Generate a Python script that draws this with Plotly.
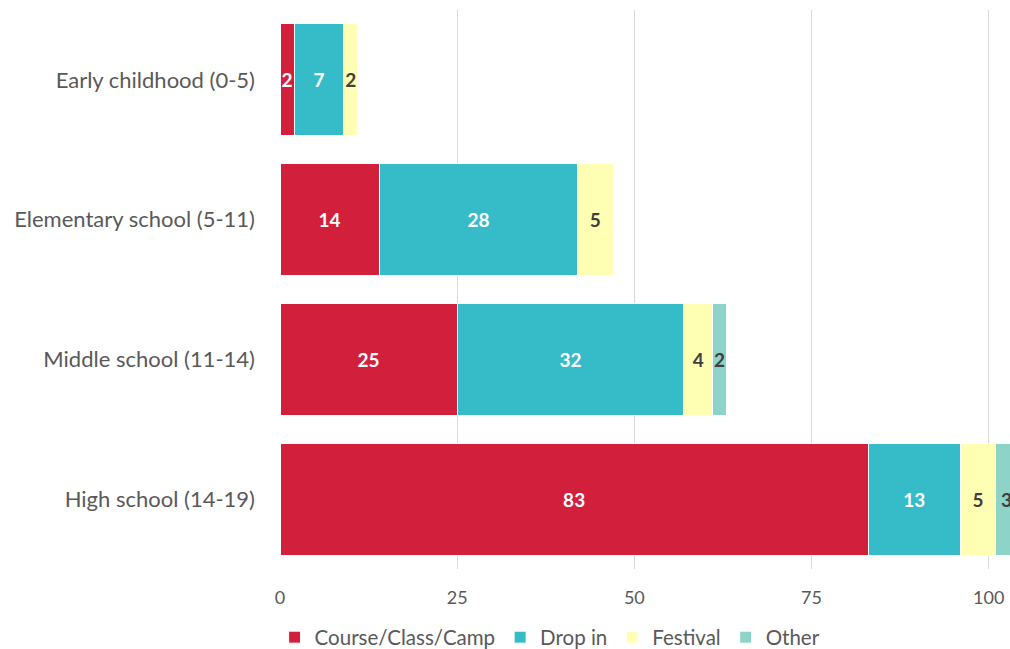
import plotly.graph_objects as go

categories = ["Early childhood (0-5)", "Elementary school (5-11)", "Middle school (11-14)", "High school (14-19)"]
course = [2, 14, 25, 83]
dropin = [7, 28, 32, 13]
festival = [2, 5, 4, 5]
other = [None, None, 2, 3]

series = [
    ("Course/Class/Camp", course, "#D21F3C", "white"),
    ("Drop in", dropin, "#36BBC8", "white"),
    ("Festival", festival, "#FFFFB3", "#404040"),
    ("Other", other, "#8DD3C7", "#404040"),
]

font_family = "Lato, Open Sans, sans-serif"
fig = go.Figure()
for name, vals, color, tcolor in series:
    fig.add_trace(go.Bar(
        y=categories, x=vals, name=name, orientation="h",
        marker=dict(color=color, line=dict(color="white", width=1)),
        text=[("" if v is None else str(v)) for v in vals],
        textposition="inside", insidetextanchor="middle",
        textfont=dict(color=tcolor, size=19, family=font_family, weight="bold"),
        cliponaxis=True,
    ))

fig.update_layout(
    barmode="stack", bargap=0.2,
    width=1010, height=649,
    margin=dict(l=280, r=0, t=10, b=80, autoexpand=False),
    plot_bgcolor="white", paper_bgcolor="white",
    font=dict(family=font_family, color="#595959", size=19),
    uniformtext=dict(minsize=19, mode="show"),
    legend=dict(orientation="h", x=0.37, xanchor="center",
                yref="container", y=0.018, yanchor="middle",
                font=dict(size=20.5, color="#595959"), traceorder="normal",
                itemwidth=30, tracegroupgap=0),
    xaxis=dict(range=[0, 103], tickvals=[0, 25, 50, 75, 100], showgrid=True,
               gridcolor="#D9D9D9", gridwidth=1, zeroline=False, showline=False,
               tickfont=dict(size=18), ticks="", ticklabelstandoff=16),
    yaxis=dict(categoryorder="array", categoryarray=categories[::-1],
               showgrid=False, ticks="", ticklabelstandoff=24, tickfont=dict(size=22)),
)
fig.write_html("out.html")
